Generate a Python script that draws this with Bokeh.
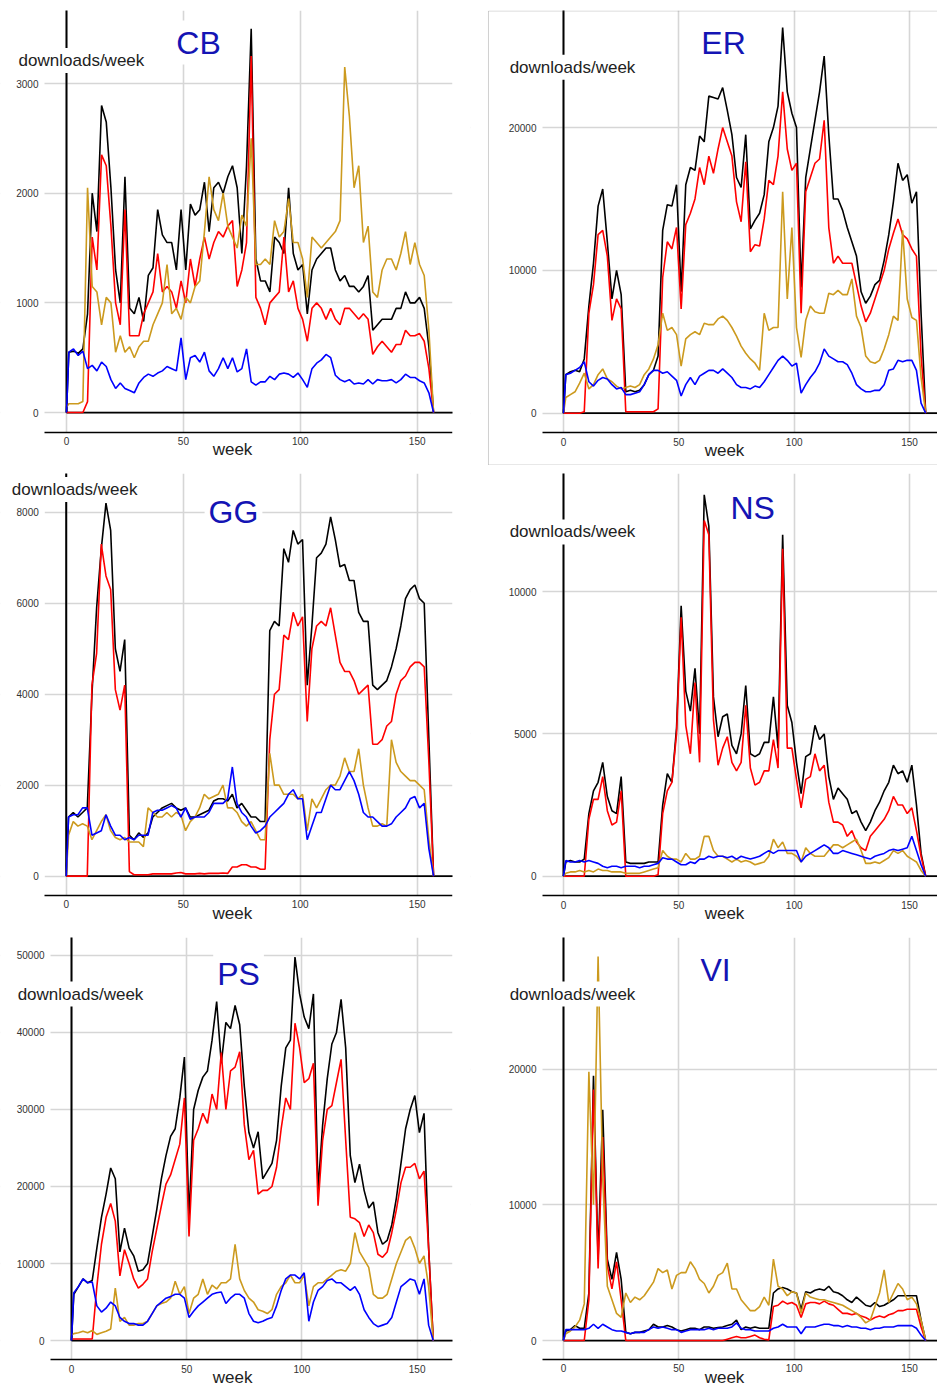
from bokeh.plotting import figure
from bokeh.layouts import column, row
from bokeh.models import Label, Range1d, FixedTicker, BoxAnnotation
from bokeh.embed import file_html
from bokeh.resources import INLINE

# week index: 0 then every odd week up to 157
WEEKS = [0] + list(range(1, 158, 2))
X_TICKS = [0, 50, 100, 150]

CB_BLACK = [0, 550, 560, 540, 580, 900, 2000, 1650, 2800, 2650,
            2050, 1300, 1000, 2150, 950, 900, 1050, 830, 1250, 1320,
            1850, 1620, 1550, 1550, 1300, 1850, 1300, 1900, 1800, 1850,
            2100, 1650, 2050, 2100, 2000, 2150, 2250, 2050, 1450, 2250,
            3500, 1400, 1200, 1200, 1100, 1600, 1550, 1450, 2050, 1450,
            1300, 1350, 900, 1300, 1400, 1450, 1500, 1500, 1300, 1200,
            1250, 1150, 1150, 1100, 1150, 1250, 750, 800, 850, 850,
            850, 950, 950, 1100, 1000, 1000, 1050, 950, 600, 0]
CB_RED = [0, 0, 0, 0, 0, 100, 1600, 1300, 2350, 2250,
          1700, 1000, 800, 1850, 700, 700, 700, 900, 1000, 1100,
          1450, 1100, 1150, 1100, 950, 1200, 1000, 1400, 1150, 1400,
          1600, 1400, 1550, 1650, 1600, 1700, 1750, 1150, 1300, 1550,
          3250, 1050, 950, 800, 1000, 1050, 1100, 1600, 1100, 1200,
          950, 850, 650, 950, 1000, 950, 850, 950, 850, 800,
          950, 950, 900, 850, 900, 850, 530, 600, 650, 600,
          550, 620, 620, 750, 700, 700, 720, 650, 400, 0]
CB_GOLD = [50, 80, 80, 80, 100, 2050, 1150, 1100, 800, 1050,
           1000, 550, 700, 550, 600, 500, 600, 650, 650, 800,
           900, 1000, 1350, 900, 950, 850, 1050, 1000, 1150, 1200,
           1650, 2150, 1850, 1750, 2000, 1700, 1600, 1500, 1800, 1700,
           2500, 1350, 1350, 1400, 1350, 1750, 1600, 1650, 1950, 1550,
           1550, 1400, 1050, 1600, 1550, 1500, 1550, 1600, 1650, 1750,
           3150, 2700, 2050, 2250, 1550, 1700, 1100, 1050, 1300, 1400,
           1400, 1300, 1450, 1650, 1350, 1550, 1350, 1250, 750, 0]
CB_BLUE = [0, 550, 580, 520, 560, 400, 430, 380, 460, 420,
           300, 220, 270, 220, 200, 180, 270, 320, 350, 330,
           360, 380, 420, 400, 380, 680, 300, 500, 520, 460,
           550, 380, 330, 400, 500, 400, 500, 370, 400, 580,
           280, 250, 280, 280, 330, 300, 350, 360, 350, 320,
           360, 300, 230, 400, 450, 480, 530, 500, 340, 300,
           280, 300, 260, 270, 260, 300, 260, 300, 290, 290,
           300, 270, 300, 350, 320, 320, 290, 270, 180, 0]

ER_BLACK = [0, 2700, 2900, 3000, 2900, 3800, 7500, 10500, 14500, 15700,
            12000, 8000, 10000, 8300, 1500, 1600, 1500, 1600, 2000, 2700,
            3000, 4000, 12800, 14600, 14500, 16000, 8500, 16000, 17200, 17000,
            19400, 19000, 22200, 22100, 22000, 22800, 21200, 19500, 16500, 15800,
            19500, 12900, 13500, 14000, 15300, 19000, 20000, 21500, 27000, 22500,
            21000, 20000, 8800, 16500, 18500, 20500, 22500, 25000, 19500, 15000,
            15000, 14200, 13000, 12000, 11000, 8500, 7700, 8200, 9000, 9300,
            10700, 12500, 14800, 17500, 16300, 16700, 14700, 15500, 7000, 0]
ER_RED = [0, 0, 0, 0, 0, 100, 7000, 9000, 12500, 12800,
          11000, 6500, 8000, 7300, 100, 100, 100, 100, 100, 100,
          100, 300, 9500, 12000, 11500, 13000, 7300, 13200, 14000, 15000,
          17200, 16000, 18000, 16800, 18500, 20000, 19000, 18000, 14800, 13400,
          17600, 11300, 11800, 11700, 13600, 16300, 16000, 18000, 22500, 18500,
          17000, 17500, 7000, 15500, 16500, 17500, 17800, 20500, 13000, 10500,
          11000, 10500, 10500, 10500, 9000, 7500, 6400, 7000, 8000, 9000,
          10000, 11500, 12600, 13600, 12500, 12200, 11500, 11000, 4000, 0]
ER_GOLD = [0, 1100, 1300, 1500, 2100, 2800, 1700, 2000, 2700, 3100,
           2400, 2200, 1900, 1700, 1800, 1900, 1800, 2000, 2700, 3100,
           3800, 4800, 7000, 5800, 6000, 5500, 3300, 5200, 5500, 5700,
           5500, 6300, 6200, 6200, 6600, 6800, 6500, 6000, 5400, 4700,
           4200, 3800, 3500, 3000, 7000, 5800, 6000, 6000, 15500, 8000,
           13000, 6000, 3900, 6500, 7500, 7100, 7000, 7000, 8400, 8300,
           8600, 8300, 8300, 9400, 6800, 6000, 4000, 3600, 3500, 3700,
           4500, 5500, 6800, 6500, 12800, 8000, 6700, 6500, 2500, 0]
ER_BLUE = [0, 2700, 2800, 3000, 3200, 3600, 2200, 1900, 2300, 2500,
           2400, 2000, 1700, 1800, 1300, 1300, 1400, 1500, 2000, 2700,
           3000, 3000, 2800, 2900, 2600, 2300, 1200, 2000, 2500, 2000,
           2600, 2800, 3000, 3000, 2800, 3100, 2800, 2500, 2000, 1800,
           1800, 1700, 1900, 1800, 2200, 2700, 3200, 3700, 4000, 3700,
           3300, 3500, 1400, 2000, 2500, 2900, 3500, 4500, 4000, 3800,
           3600, 3600, 3400, 2800, 2000, 1700, 1500, 1500, 1600, 1600,
           2000, 3000, 3100, 3700, 3600, 3700, 3700, 3000, 700, 0]

GG_BLACK = [0, 1300, 1400, 1300, 1400, 1500, 4000, 5900, 7200, 8200,
            7600, 5000, 4500, 5200, 900, 800, 950, 850, 950, 1300,
            1400, 1500, 1550, 1600, 1500, 1450, 1500, 1300, 1300, 1350,
            1400, 1450, 1650, 1700, 1700, 1650, 1800, 1500, 1600, 1450,
            1300, 1300, 1200, 1200, 5400, 5600, 5500, 7200, 6900, 7600,
            7300, 7400, 4200, 5500, 7000, 7100, 7300, 7900, 7400, 6800,
            6850, 6500, 6500, 5800, 5600, 5600, 4200, 4100, 4200, 4300,
            4600, 5000, 5500, 6100, 6300, 6400, 6100, 6000, 3000, 0]
GG_RED = [0, 0, 0, 0, 0, 0, 4200, 4900, 7300, 6600,
          6300, 4100, 3650, 4200, 100, 30, 30, 30, 30, 50,
          50, 50, 50, 50, 70, 80, 50, 50, 50, 60,
          50, 60, 60, 60, 70, 60, 200, 200, 250, 250,
          200, 200, 150, 150, 3000, 4000, 4100, 5300, 5200, 5800,
          5500, 5700, 3400, 5000, 5500, 5600, 5500, 5900, 5300, 4700,
          4500, 4500, 4300, 4000, 4100, 4200, 2900, 2900, 3000, 3300,
          3400, 4000, 4300, 4400, 4600, 4700, 4700, 4600, 2500, 0]
GG_GOLD = [0, 900, 1200, 1100, 1150, 1100, 800, 1000, 1200, 1350,
           1000, 850, 800, 850, 750, 750, 750, 650, 1500, 1400,
           1300, 1300, 1400, 1300, 1400, 1350, 1000, 1200, 1300, 1500,
           1800, 1700, 1750, 1800, 2000, 1500, 1500, 1400, 1200, 1100,
           1200, 1000, 800, 800, 2700, 2000, 2000, 1800, 1800, 1800,
           1700, 1800, 1000, 1700, 1500, 1700, 1900, 2000, 2000, 2200,
           2600, 2300, 2300, 2800, 2000, 1500, 1100, 1100, 1150, 1100,
           3000, 2500, 2300, 2200, 2100, 2100, 2000, 1900, 800, 0]
GG_BLUE = [0, 1300, 1350, 1350, 1500, 1500, 900, 950, 1000, 1350,
           1100, 900, 900, 800, 850, 800, 900, 900, 900, 1400,
           1450, 1450, 1500, 1550, 1500, 1300, 1500, 1250, 1300, 1300,
           1300, 1400, 1600, 1600, 1600, 1700, 2400, 1600, 1400, 1300,
           1100, 950, 1000, 1100, 1300, 1400, 1500, 1600, 1800, 1900,
           1700, 1700, 800, 1100, 1400, 1400, 1700, 2000, 1900, 1900,
           2100, 2300, 2100, 1800, 1400, 1300, 1300, 1200, 1100, 1100,
           1150, 1300, 1400, 1500, 1700, 1750, 1500, 1600, 600, 0]

NS_BLACK = [0, 500, 550, 500, 500, 600, 2200, 3000, 3300, 4000,
            2800, 2300, 2200, 3500, 500, 450, 450, 450, 450, 500,
            500, 500, 2500, 3600, 3300, 5200, 9500, 6500, 5800, 7300,
            5000, 13400, 12300, 6300, 4900, 5600, 5700, 4600, 4300, 5000,
            6700, 4300, 4200, 4300, 4700, 4700, 6300, 4500, 12000, 6000,
            5400, 4000, 2900, 4200, 4300, 5300, 4800, 5000, 3500, 2700,
            3100, 2900, 2700, 2200, 2300, 1900, 1600, 1900, 2300, 2600,
            3000, 3300, 3900, 3600, 3700, 3300, 3900, 2500, 800, 0]
NS_RED = [0, 0, 0, 0, 0, 0, 2000, 2700, 2700, 3500,
          2300, 1800, 1900, 3000, 0, 0, 0, 0, 0, 0,
          0, 50, 2200, 3000, 3300, 5000, 9100, 5300, 4300, 6800,
          4000, 12500, 12000, 5500, 3900, 4500, 4900, 4000, 3700, 4000,
          6000, 3800, 3200, 3300, 3700, 3700, 4800, 3800, 11500, 4500,
          4500, 3400, 2400, 3400, 3500, 4300, 3700, 3900, 2600, 1900,
          1900, 1800, 1400, 1600, 1200, 1000, 900, 1400, 1600, 1800,
          2000, 2300, 2800, 2500, 2500, 2200, 2400, 1600, 700, 0]
NS_GOLD = [0, 100, 150, 150, 200, 150, 200, 150, 250, 200,
           200, 150, 150, 150, 100, 100, 100, 100, 150, 200,
           250, 300, 900, 700, 600, 600, 500, 800, 600, 600,
           700, 1400, 1400, 900, 700, 700, 600, 500, 600, 500,
           550, 500, 400, 450, 500, 700, 1300, 1000, 1200, 800,
           800, 700, 500, 1000, 800, 700, 700, 700, 900, 1100,
           1100, 1000, 1100, 1200, 1300, 900, 450, 450, 500, 450,
           550, 650, 900, 800, 900, 700, 600, 500, 200, 0]
NS_BLUE = [0, 550, 500, 500, 550, 500, 550, 500, 450, 350,
           300, 350, 350, 300, 350, 350, 350, 300, 350, 350,
           400, 450, 650, 600, 600, 500, 400, 400, 500, 450,
           600, 600, 700, 650, 700, 700, 650, 700, 600, 700,
           650, 600, 650, 700, 800, 900, 800, 900, 900, 900,
           900, 900, 500, 700, 800, 900, 1000, 1100, 1000, 800,
           800, 900, 850, 800, 750, 700, 650, 600, 700, 750,
           800, 900, 950, 900, 950, 1000, 1400, 900, 400, 0]

PS_BLACK = [0, 6000, 7000, 8000, 7500, 7800, 12000, 16000, 19000, 22400,
            21000, 11500, 14600, 12000, 11000, 9000, 9200, 10000, 13500, 17000,
            21000, 24000, 26500, 27500, 31500, 36800, 16000, 30000, 32500, 34200,
            35000, 39000, 44000, 36000, 41300, 40500, 43500, 41000, 33000, 27000,
            25000, 27100, 21000, 22000, 23000, 26000, 33000, 38000, 39000, 49800,
            45000, 42000, 40500, 45000, 19500, 28000, 34000, 38500, 40000, 44300,
            38000, 24000, 20500, 22900, 19500, 17200, 18000, 14000, 12500, 13000,
            15000, 18500, 23000, 27500, 30000, 31800, 27000, 29500, 12000, 0]
PS_RED = [200, 200, 200, 200, 200, 200, 7000, 12500, 16000, 17800,
          15500, 8400, 11800, 10000, 8000, 6800, 7300, 8000, 11500, 14500,
          17500, 20300, 21500, 23500, 25500, 31500, 13500, 26000, 27500, 29500,
          28200, 32000, 30000, 37400, 30000, 35000, 35500, 37500, 28000, 23500,
          24700, 19000, 19500, 19500, 20000, 22500, 27500, 31500, 30000, 41200,
          38000, 33500, 34000, 36000, 17500, 26000, 30000, 30500, 33500, 36500,
          26000, 16000, 15800, 15300, 13500, 15000, 14000, 11200, 10800, 11500,
          14000, 17000, 20500, 22500, 22500, 23000, 21000, 22000, 12000, 0]
PS_GOLD = [700, 900, 1000, 1200, 1000, 1300, 800, 1000, 1200, 1500,
           6800, 2500, 3000, 2000, 2000, 2200, 2200, 2500, 3500, 4500,
           4800, 5000, 5500, 7700, 6000, 7000, 3500, 5500, 6000, 8000,
           6000, 7200, 6700, 7500, 7500, 8000, 12500, 8000, 6500, 5500,
           5000, 4000, 3800, 3500, 4000, 6000, 7000, 7500, 8500, 7500,
           7500, 8500, 4500, 7000, 7500, 7500, 8000, 8500, 9000, 9200,
           9000, 10000, 14000, 11500, 10500, 9500, 6000, 5500, 5500, 6000,
           8000, 10000, 11500, 13000, 13500, 12000, 10000, 11000, 7000, 0]
PS_BLUE = [0, 6200, 7000, 8000, 7500, 7600, 4500, 3700, 4200, 5000,
           4500, 3000, 2500, 2200, 2200, 2000, 2000, 2500, 3500, 4500,
           5000, 5500, 5700, 6000, 6000, 5500, 3000, 3800, 4500, 5000,
           5500, 6000, 6200, 6300, 4800, 5500, 6000, 6000, 5500, 3500,
           2500, 2300, 2500, 2800, 3000, 4500, 6500, 8000, 8500, 8500,
           8000, 8800, 2500, 5000, 6500, 7000, 7800, 8000, 7500, 7500,
           7000, 6500, 7000, 6000, 4000, 3000, 2200, 1800, 2000, 2200,
           3000, 5000, 7000, 7500, 8000, 7800, 6000, 8000, 2000, 0]

VI_BLACK = [0, 700, 800, 1100, 900, 900, 3500, 19500, 6000, 17000,
            6000, 4500, 6500, 4500, 600, 500, 600, 600, 700, 800,
            1200, 1000, 1000, 1100, 1000, 800, 700, 800, 900, 900,
            800, 1000, 1000, 900, 950, 1000, 1100, 1200, 1500, 800,
            1000, 900, 1000, 900, 900, 900, 3500, 3800, 3900, 3800,
            3600, 3500, 2300, 3600, 3500, 3700, 3800, 3700, 4000, 3600,
            3500, 3300, 3000, 2800, 3200, 2900, 2600, 2500, 2800, 2500,
            2600, 2800, 3000, 3300, 3300, 3300, 3300, 3300, 1500, 0]
VI_RED = [0, 0, 0, 0, 0, 0, 3000, 18500, 5300, 15000,
          5500, 3800, 5800, 3000, 0, 0, 0, 0, 0, 0,
          0, 0, 0, 0, 0, 0, 0, 0, 0, 0,
          0, 0, 0, 0, 0, 0, 100, 200, 300, 200,
          200, 300, 400, 200, 100, 50, 2500, 2600, 2900, 2700,
          2800, 2600, 1700, 2700, 2800, 2800, 2700, 2900, 2700, 2600,
          2300, 2000, 2000, 1900, 2000, 1800, 1700, 1500, 1700, 1800,
          1700, 1900, 2000, 2200, 2200, 2300, 2300, 2300, 1000, 0]
VI_GOLD = [0, 500, 700, 1000, 1500, 2700, 19800, 10000, 28300, 12000,
           4000, 3000, 2000, 1700, 3500, 2800, 3200, 3000, 3300, 3800,
           4300, 5300, 5000, 5200, 3800, 4800, 5000, 5000, 5800, 5300,
           4500, 4200, 3500, 4000, 4800, 5000, 5700, 3800, 3800, 3000,
           2600, 2200, 2200, 2500, 3200, 2600, 6000, 4000, 3800, 3300,
           3600, 3500, 2000, 3500, 3200, 3100, 3000, 3000, 2900, 2800,
           2700, 2600, 2400, 2200, 2000, 1700, 1300, 1500, 2500, 3500,
           5200, 2800, 3500, 4200, 3800, 3000, 3200, 2700, 1500, 0]
VI_BLUE = [0, 800, 800, 800, 800, 800, 900, 1200, 900, 1200,
           1000, 800, 700, 700, 600, 500, 600, 600, 600, 800,
           1000, 900, 1000, 900, 800, 800, 600, 700, 800, 800,
           800, 800, 900, 800, 900, 900, 900, 1000, 1300, 900,
           800, 800, 700, 700, 700, 700, 900, 1000, 1200, 1000,
           1000, 1000, 500, 1000, 1000, 1000, 1100, 1200, 1200, 1100,
           1100, 1000, 1100, 1000, 1000, 900, 900, 800, 900, 900,
           1000, 1000, 1000, 1100, 1100, 1100, 1100, 900, 400, 0]

CB_TICKS = [0, 1000, 2000, 3000]
ER_TICKS = [0, 10000, 20000]
GG_TICKS = [0, 2000, 4000, 6000, 8000]
NS_TICKS = [0, 5000, 10000]
PS_TICKS = [0, 10000, 20000, 30000, 40000, 50000]
VI_TICKS = [0, 10000, 20000]

SERIES_COLORS = ["black", "#ff0000", "#cc9a1e", "#0000ff"]
FONT = "Liberation Sans"


def white_box(left, right, bottom, top):
    return BoxAnnotation(left=left, right=right, bottom=bottom, top=top,
                         fill_color="white", fill_alpha=1.0,
                         line_color=None, level="underlay")


def make_panel(name, series, yticks, xr, yr, x_left, y_axis, size, borders,
               title_xy, dl_xy, week_xy, frame_box=None):
    w, h = size
    br, bt = borders
    p = figure(width=w, height=h, x_range=Range1d(*xr), y_range=Range1d(*yr),
               output_backend="svg", toolbar_location=None, min_border=0,
               min_border_left=0, min_border_right=br,
               min_border_top=bt, min_border_bottom=0,
               outline_line_color=None, background_fill_color="white",
               border_fill_color="white")
    p.xgrid.ticker = FixedTicker(ticks=X_TICKS)
    p.ygrid.ticker = FixedTicker(ticks=yticks)
    for g in (p.xgrid, p.ygrid):
        g.grid_line_color = "#d6d6d6"
        g.grid_line_width = 1.6

    # keep grid lines inside the axes' area
    dx = xr[1] - xr[0]
    dy = yr[1] - yr[0]
    p.add_layout(white_box(xr[0] - dx, x_left, yr[0] - dy, yr[1] + dy))
    p.add_layout(white_box(xr[0] - dx, xr[1] + dx, yr[0] - dy, y_axis))

    p.xaxis.fixed_location = y_axis
    p.xaxis.bounds = (x_left, xr[1])
    p.xaxis.ticker = FixedTicker(ticks=X_TICKS)
    p.xaxis.axis_line_color = "black"
    p.xaxis.axis_line_width = 1.5
    p.xaxis.major_tick_line_color = None
    p.xaxis.minor_tick_line_color = None
    p.xaxis.major_tick_out = 0
    p.xaxis.major_tick_in = 0
    p.xaxis.major_label_standoff = 5
    p.xaxis.major_label_text_font_size = "10px"
    p.xaxis.major_label_text_font = FONT
    p.xaxis.major_label_text_color = "#333333"

    p.yaxis.fixed_location = x_left
    p.yaxis.ticker = FixedTicker(ticks=yticks)
    p.yaxis.axis_line_color = None
    p.yaxis.major_tick_line_color = None
    p.yaxis.minor_tick_line_color = None
    p.yaxis.major_tick_out = 0
    p.yaxis.major_tick_in = 0
    p.yaxis.major_label_standoff = 6
    p.yaxis.major_label_text_font_size = "10px"
    p.yaxis.major_label_text_font = FONT
    p.yaxis.major_label_text_color = "#333333"

    # zero lines starting at the origin
    p.ray(x=[0], y=[0], length=0, angle=0, angle_units="deg",
          line_color="black", line_width=1.8)
    p.ray(x=[0], y=[0], length=0, angle=90, angle_units="deg",
          line_color="black", line_width=2)

    for vals, col in zip(series, SERIES_COLORS):
        p.line(WEEKS, vals, line_color=col, line_width=1.6)

    if frame_box is not None:
        l, t, b = frame_box
        p.add_layout(BoxAnnotation(left=l, right=xr[1] + dx, top=t, bottom=b,
                                   fill_alpha=0, line_color="#666666",
                                   line_width=1))

    p.add_layout(Label(x=title_xy[0], y=title_xy[1], text=name,
                       text_font=FONT, text_font_size="32px",
                       text_color="#1414b4", text_align="center",
                       text_baseline="middle", background_fill_color="white",
                       background_fill_alpha=1.0, padding=4))
    p.add_layout(Label(x=dl_xy[0], y=dl_xy[1], text="downloads/week",
                       text_font=FONT, text_font_size="17px",
                       text_color="#222222", text_align="center",
                       text_baseline="middle", background_fill_color="white",
                       background_fill_alpha=1.0, padding=3))
    p.add_layout(Label(x=week_xy[0], y=week_xy[1], text="week",
                       text_font=FONT, text_font_size="17px",
                       text_color="#222222", text_align="center",
                       text_baseline="middle"))
    return p


RIGHT_X = (-40.31, 162.12)

p1 = make_panel("CB", [CB_BLACK, CB_RED, CB_GOLD, CB_BLUE], CB_TICKS,
                (-28.23, 165.10), (-483, 3666), -9.41, -182,
                (470, 465), (18, 10),
                (56.5, 3374), (6.4, 3210), (71, -337))
p2 = make_panel("ER", [ER_BLACK, ER_RED, ER_GOLD, ER_BLUE], ER_TICKS,
                RIGHT_X, (-3662, 28195), -9.10, -1372,
                (467, 465), (0, 10),
                (69.4, 25905), (3.9, 24225), (69.8, -2611),
                frame_box=(-32.51, 28160, -3627))
p3 = make_panel("GG", [GG_BLACK, GG_RED, GG_GOLD, GG_BLUE], GG_TICKS,
                (-28.08, 165.09), (-1085, 8852), -9.15, -425,
                (470, 460), (18, 8),
                (71.5, 8007), (3.6, 8500), (71, -814))
p4 = make_panel("NS", [NS_BLACK, NS_RED, NS_GOLD, NS_BLUE], NS_TICKS,
                RIGHT_X, (-1733, 14149), -9.10, -679,
                (467, 460), (0, 8),
                (82, 12940), (3.9, 12096), (69.8, -1301))
p5 = make_panel("PS", [PS_BLACK, PS_RED, PS_GOLD, PS_BLUE], PS_TICKS,
                (-30.82, 165.36), (-5969, 52330), -9.11, -2465,
                (470, 461), (18, 12),
                (72.5, 47580), (3.9, 44985), (69.9, -4762))
p6 = make_panel("VI", [VI_BLACK, VI_RED, VI_GOLD, VI_BLUE], VI_TICKS,
                RIGHT_X, (-3387, 29692), -9.10, -1376,
                (467, 461), (0, 12),
                (65.9, 27290), (3.9, 25525), (69.8, -2702))

layout = column(row(p1, p2), row(p3, p4), row(p5, p6))

with open("out.html", "w") as f:
    f.write(file_html(layout, INLINE))
